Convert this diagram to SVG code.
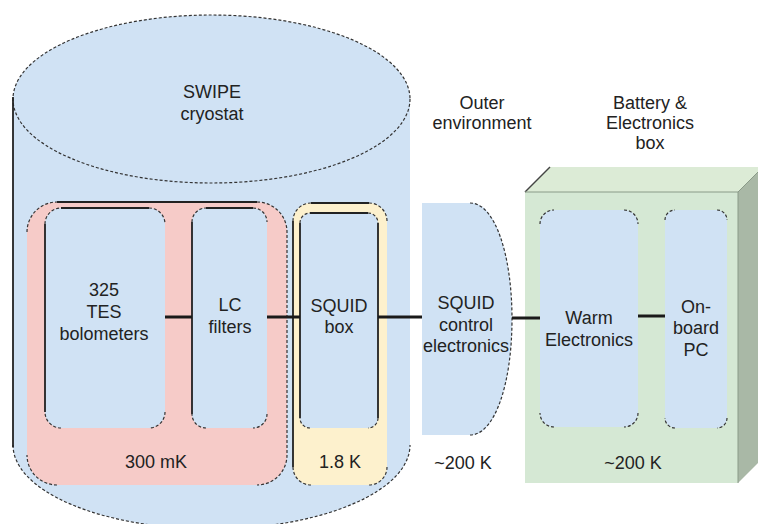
<svg xmlns="http://www.w3.org/2000/svg" width="758" height="524" viewBox="0 0 758 524">
<style>
.t{font-family:"Liberation Sans",Arial,sans-serif;font-size:18px;fill:#222;text-anchor:middle}
.blue{fill:#d0e2f4}
.dash{fill:none;stroke:#333;stroke-width:1.2;stroke-dasharray:3 2}
.solid{fill:none;stroke:#222;stroke-width:1.8}
.conn{stroke:#1a1a1a;stroke-width:3;fill:none}
</style>
<rect width="758" height="524" fill="#ffffff"/>
<g id="cryostat">
<path class="blue" d="M13,99 L13,445 A198.5,84 0 0 0 410,445 L410,99 Z"/>
<ellipse class="blue" cx="211.5" cy="99" rx="198.5" ry="84"/>
<ellipse class="dash" cx="211.5" cy="99" rx="198.5" ry="84"/>
<path class="dash" d="M13,445 A198.5,84 0 0 0 410,445"/>
<path class="solid" d="M13,97 V447"/>
<text class="t" x="212" y="98">SWIPE</text>
<text class="t" x="212" y="120">cryostat</text>
</g>
<g id="stage300mK">
<rect x="27" y="202" width="260" height="283" rx="30" fill="#f6cbc8"/>
<path class="dash" d="M27,232 A30,30 0 0 1 57,202 M257,202 A30,30 0 0 1 287,232 V455 A30,30 0 0 1 257,485 M57,485 A30,30 0 0 1 27,455"/>
<path class="solid" d="M57,202 H257"/>
<text class="t" x="156" y="468">300 mK</text>
</g>
<g id="stage18K">
<rect x="293" y="203" width="94" height="282" rx="18" fill="#fdf1cd"/>
<path class="dash" d="M293,221 A18,18 0 0 1 311,203 M369,203 A18,18 0 0 1 387,221 M387,467 A18,18 0 0 1 369,485 M311,485 A18,18 0 0 1 293,467"/>
<path class="solid" d="M293,221 V467 M311,203 H369"/>
<text class="t" x="340" y="468">1.8 K</text>
</g>
<g id="tes">
<rect class="blue" x="45" y="208" width="120" height="220" rx="16"/>
<path class="dash" d="M45,224 A16,16 0 0 1 61,208 M149,208 A16,16 0 0 1 165,224 M165,412 A16,16 0 0 1 149,428 M61,428 A16,16 0 0 1 45,412"/>
<path class="solid" d="M45,224 V412 M61,208 H149"/>
<text class="t" x="104" y="296">325</text>
<text class="t" x="104" y="318">TES</text>
<text class="t" x="104" y="340">bolometers</text>
</g>
<g id="lc">
<rect class="blue" x="192" y="208" width="75" height="220" rx="14"/>
<path class="dash" d="M192,222 A14,14 0 0 1 206,208 M253,208 A14,14 0 0 1 267,222 M267,414 A14,14 0 0 1 253,428 M206,428 A14,14 0 0 1 192,414"/>
<path class="solid" d="M192,222 V414 M206,208 H253"/>
<text class="t" x="230" y="311">LC</text>
<text class="t" x="230" y="333">filters</text>
</g>
<g id="squidbox">
<rect class="blue" x="300" y="213" width="78" height="215" rx="10"/>
<path class="dash" d="M300,223 A10,10 0 0 1 310,213 M368,213 A10,10 0 0 1 378,223 M378,418 A10,10 0 0 1 368,428 M310,428 A10,10 0 0 1 300,418"/>
<path class="solid" d="M300,223 V418 M378,223 V418 M310,213 H368"/>
<text class="t" x="339" y="312">SQUID</text>
<text class="t" x="339" y="333">box</text>
</g>
<g id="outer">
<text class="t" x="482" y="109">Outer</text>
<text class="t" x="482" y="129">environment</text>
</g>
<g id="squidctrl">
<path class="blue" d="M422,203 H472 C495,203 512,255 512,319 C512,383 495,435 472,435 H422 Z"/>
<path class="dash" d="M470,203 C495,203 512,255 512,319 C512,383 495,435 470,435"/>
<text class="t" x="466" y="309">SQUID</text>
<text class="t" x="466" y="331">control</text>
<text class="t" x="466" y="352">electronics</text>
<text class="t" x="463" y="469">~200 K</text>
</g>
<g id="battery">
<polygon points="525,192 550,167 763,167 738,192" fill="#dcebd6"/>
<polygon points="738,192 763,167 763,458 738,483" fill="#a9b8a6"/>
<rect x="525" y="192" width="213" height="291" fill="#d5e8d4"/>
<path d="M525,192 L550,167" stroke="#444" stroke-width="1.5" fill="none"/>
<path d="M525,192 H738 L758,172 M738,192 V483" stroke="#8a9a88" stroke-width="1" fill="none"/>
<text class="t" x="650" y="109">Battery &amp;</text>
<text class="t" x="650" y="129">Electronics</text>
<text class="t" x="650" y="149">box</text>
<text class="t" x="633" y="469">~200 K</text>
</g>
<g id="warm">
<rect class="blue" x="540" y="210" width="98" height="217" rx="14"/>
<path class="dash" d="M540,224 A14,14 0 0 1 554,210 M624,210 A14,14 0 0 1 638,224 M638,413 A14,14 0 0 1 624,427 M554,427 A14,14 0 0 1 540,413"/>
<text class="t" x="589" y="324">Warm</text>
<text class="t" x="589" y="346">Electronics</text>
</g>
<g id="pc">
<rect class="blue" x="665" y="210" width="62" height="218" rx="10"/>
<path class="dash" d="M665,220 A10,10 0 0 1 675,210 M717,210 A10,10 0 0 1 727,220 M727,418 A10,10 0 0 1 717,428 M675,428 A10,10 0 0 1 665,418"/>
<text class="t" x="696" y="313">On-</text>
<text class="t" x="696" y="334">board</text>
<text class="t" x="696" y="356">PC</text>
</g>
<g id="connectors">
<path class="conn" d="M165,317 H192"/>
<path class="conn" d="M267,317 H300"/>
<path class="conn" d="M378,317 H422" stroke-width="3.5"/>
<path class="conn" d="M512,318 H540"/>
<path class="conn" d="M638,316 H665"/>
</g>
</svg>
